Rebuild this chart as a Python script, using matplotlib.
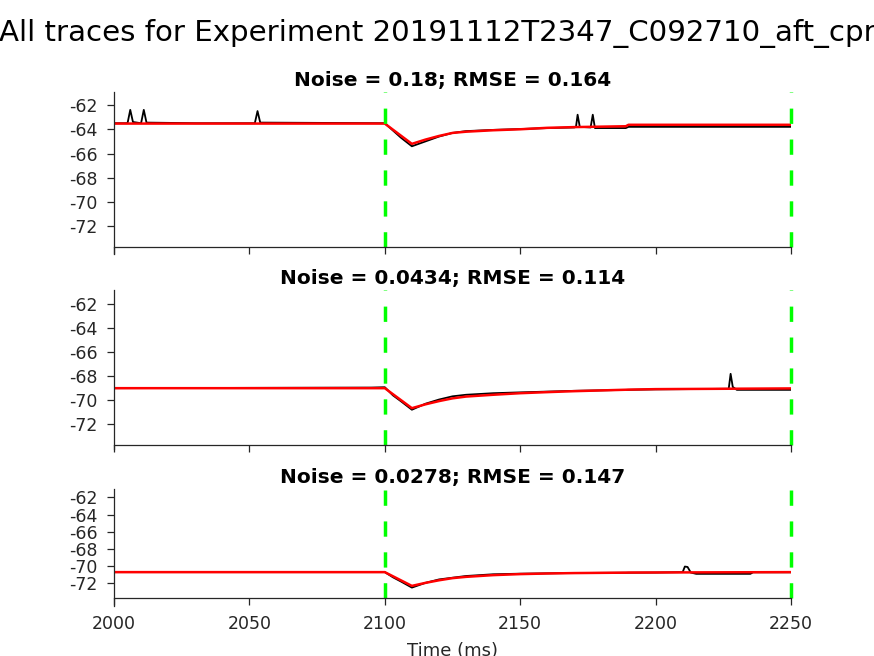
import matplotlib
matplotlib.use("Agg")
import matplotlib.pyplot as plt

plt.rcParams['font.family'] = ['DejaVu Sans']
plt.rcParams['axes.unicode_minus'] = False

suptitle = "All traces for Experiment 20191112T2347_C092710_aft_cpr"
titles = ["Noise = 0.18; RMSE = 0.164",
          "Noise = 0.0434; RMSE = 0.114",
          "Noise = 0.0278; RMSE = 0.147"]

# recorded traces (black)
t_rec1 = [2000, 2005, 2006, 2007, 2010, 2011, 2012, 2030, 2052, 2053, 2054, 2100,
          2103, 2106, 2110, 2115, 2120, 2125, 2130, 2140, 2150, 2160, 2170, 2170.6,
          2171.2, 2172, 2176, 2176.8, 2177.6, 2189, 2190, 2250]
v_rec1 = [-63.5, -63.5, -62.4, -63.4, -63.5, -62.4, -63.45, -63.5, -63.5, -62.5, -63.45, -63.5,
          -64.1, -64.7, -65.4, -65.0, -64.6, -64.3, -64.15, -64.05, -63.98, -63.9, -63.85, -63.8,
          -62.8, -63.8, -63.85, -62.8, -63.9, -63.9, -63.8, -63.8]
t_rec2 = [2000, 2095, 2100, 2103, 2106, 2110, 2115, 2120, 2125, 2130, 2140, 2150, 2170,
          2200, 2227, 2227.7, 2228.5, 2230, 2250]
v_rec2 = [-69.0, -68.95, -68.92, -69.6, -70.1, -70.8, -70.3, -69.95, -69.68, -69.55, -69.42, -69.35,
          -69.22, -69.1, -69.05, -67.8, -68.9, -69.14, -69.14]
t_rec3 = [2000, 2100, 2103, 2106, 2110, 2115, 2120, 2130, 2140, 2150, 2170, 2200,
          2210, 2210.8, 2211.8, 2213, 2215, 2235, 2236, 2250]
v_rec3 = [-70.7, -70.7, -71.3, -71.8, -72.5, -71.95, -71.55, -71.15, -70.95, -70.88, -70.8, -70.75,
          -70.7, -70.05, -70.1, -70.75, -70.9, -70.9, -70.72, -70.72]

# model fits (red)
t_fit = [2000, 2100, 2110, 2115, 2120, 2125, 2130, 2140, 2150, 2160, 2170, 2189, 2190, 2200, 2250]
v_fit1 = [-63.53, -63.53, -65.2, -64.85, -64.55, -64.3, -64.2, -64.08, -64.0, -63.88, -63.82,
          -63.75, -63.63, -63.63, -63.63]
v_fit2 = [-69.0, -69.0, -70.67, -70.35, -70.08, -69.85, -69.7, -69.55, -69.42, -69.33, -69.25,
          -69.13, -69.12, -69.08, -69.02]
v_fit3 = [-70.7, -70.7, -72.3, -71.95, -71.65, -71.4, -71.25, -71.05, -70.93, -70.86, -70.81,
          -70.76, -70.75, -70.74, -70.7]

stim_times = [2100, 2250]
yticks = [-72, -70, -68, -66, -64, -62]
xticks = [2000, 2050, 2100, 2150, 2200, 2250]

rec = [(t_rec1, v_rec1), (t_rec2, v_rec2), (t_rec3, v_rec3)]
fits = [v_fit1, v_fit2, v_fit3]
ytops = [-60.93, -60.8, -61.03]
ybots = [-74.27, -74.08, -74.64]
yaxis_line = -73.72

fig = plt.figure(figsize=(8.74, 6.56), dpi=100)
left, width = 114 / 874, 677 / 874
rows = [(92, 254), (290, 449), (489, 606)]
dark = '#262626'

for i in range(3):
    top, bot = rows[i]
    ax = fig.add_axes([left, 1 - bot / 656, width, (bot - top) / 656])
    ax.plot(rec[i][0], rec[i][1], color='black', lw=1.3)
    ax.plot(t_fit, fits[i], color='red', lw=1.8)
    for s in stim_times:
        ax.plot([s, s], [yaxis_line, ytops[i]], color='#00ff00', lw=2.5,
                linestyle=(0, (4.4, 4.5)), clip_on=False)
    ax.set_xlim(2000, 2250)
    ax.set_ylim(ybots[i], ytops[i])
    ax.spines['top'].set_visible(False)
    ax.spines['right'].set_visible(False)
    ax.spines['bottom'].set_position(('data', yaxis_line))
    for sp in ['left', 'bottom']:
        ax.spines[sp].set_color(dark)
        ax.spines[sp].set_linewidth(0.9)
    ax.set_yticks(yticks)
    ax.set_xticks(xticks)
    ax.tick_params(direction='out', length=5, width=0.9, color=dark,
                   labelcolor=dark, labelsize=12.5, pad=7)
    if i < 2:
        ax.set_xticklabels([])
    else:
        ax.set_xlabel("Time (ms)", fontsize=13, color=dark, labelpad=7)
    ax.set_title(titles[i], fontsize=14.5, fontweight='bold', pad=4)

fig.text(0.5, 1 - 33 / 656, suptitle, ha='center', va='center', fontsize=21.1)

fig.savefig("out.png", dpi=100)
